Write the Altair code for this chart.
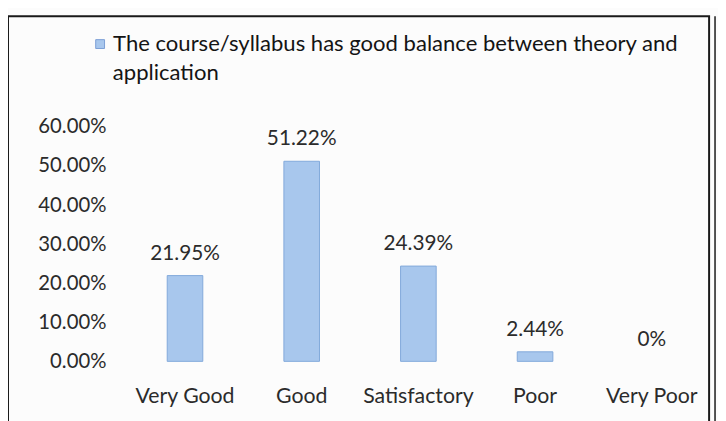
import altair as alt
import pandas as pd

categories = ["Very Good", "Good", "Satisfactory", "Poor", "Very Poor"]
values = [0.2195, 0.5122, 0.2439, 0.0244, 0.0]
series_name = "The course/syllabus has good balance between theory and application"
legend_lines = ["The course/syllabus has good balance between theory and", "application"]
y_ticks = [0.0, 0.1, 0.2, 0.3, 0.4, 0.5, 0.6]

df = pd.DataFrame({"category": categories, "value": values, "series": [series_name] * len(categories)})

FONT = "Lato"
TXT = "#2b2b2b"

y_axis = alt.Axis(format=".2%", values=y_ticks, grid=False, domain=False, ticks=False,
                  labelOverlap=False, labelPadding=21, labelFontSize=20.5,
                  labelFont=FONT, labelColor=TXT)

base = alt.Chart(df).encode(
    x=alt.X("category:N", sort=categories, title=None,
            scale=alt.Scale(paddingInner=0.69, paddingOuter=0.345),
            axis=alt.Axis(labelAngle=0, domain=False, ticks=False, labelPadding=25,
                          labelFontSize=21.5, labelFont=FONT, labelColor=TXT)),
)

bars = base.mark_bar(size=36, stroke="#82a9db", strokeWidth=1).encode(
    y=alt.Y("value:Q", title=None, scale=alt.Scale(domain=[0, 0.6]), axis=y_axis),
    strokeOpacity=alt.condition("datum.value > 0", alt.value(1), alt.value(0)),
    color=alt.Color("series:N", scale=alt.Scale(range=["#a8c7ed"]),
                    legend=alt.Legend(title=None, orient="none", legendX=-38, legendY=-95,
                                      symbolType="square", symbolSize=80, symbolStrokeWidth=1,
                                      symbolStrokeColor="#7c9fd6",
                                      labelFontSize=22.3, labelFont=FONT, labelColor="#141414",
                                      labelLimit=700, labelOffset=2, padding=0,
                                      labelExpr="'" + legend_lines[0] + "'")),
)

labels = base.transform_calculate(
    lab="datum.value == 0 ? '0%' : format(datum.value, '.2%')"
).mark_text(baseline="bottom", dy=-12, fontSize=21, font=FONT, color=TXT).encode(
    y=alt.Y("value:Q", title=None, scale=alt.Scale(domain=[0, 0.6]), axis=y_axis),
    text=alt.Text("lab:N"),
)

one = pd.DataFrame({"t": [legend_lines[1]]})
legend_line2 = alt.Chart(one).mark_text(align="left", baseline="middle", fontSize=22.3,
                                        font=FONT, color="#141414").encode(
    x=alt.value(-14), y=alt.value(-55), text="t:N"
)

frame = alt.Chart(one).mark_rect(fill=None, fillOpacity=0, stroke="#1a1a1a", strokeWidth=2).encode(
    x=alt.value(-120), x2=alt.value(589), y=alt.value(-112), y2=alt.value(330)
)
outer = alt.Chart(one).mark_rule(stroke="#1a1a1a", strokeWidth=1.5).encode(
    x=alt.value(595), y=alt.value(-112), y2=alt.value(330)
)

chart = alt.layer(frame, outer, bars, labels, legend_line2).properties(
    width=590, height=237,
    autosize=alt.AutoSizeParams(type="none"),
    padding={"left": 120, "top": 118, "right": 8, "bottom": 58},
    background="#fcfcfc",
).configure_view(stroke=None)

chart.save("out.html", embed_options={"renderer": "svg", "actions": False})
